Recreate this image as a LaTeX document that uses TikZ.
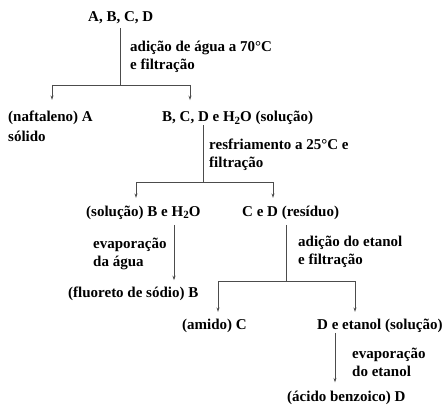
\documentclass[tikz,border=0pt]{standalone}
\usepackage{fontspec}
\setmainfont{Liberation Serif}
\usetikzlibrary{arrows.meta}
\newcommand{\hdois}{H\raisebox{-0.35ex}{\fontsize{11}{11}\selectfont 2}O}
\tikzset{
	txt/.style={inner sep=0pt, anchor=base west, font=\fontsize{15}{18}\selectfont\bfseries},
	lbl/.style={txt, align=left},
	line/.style={draw=black!70, line width=0.8pt},
	arr/.style={line, shorten >=8pt, -{Stealth[length=4.5pt,width=3pt]}}
}

\begin{document}
\begin{tikzpicture}[x=1pt,y=-1pt]
	\useasboundingbox (0,0) rectangle (446,409);

	% mistura e primeira separacao
	\node[txt] (abcd) at (88,21.5) {A, B, C, D};
	\node[lbl] (op1) at (130,70) {adição de água a 70°C\\e filtração};
	\node[txt] (naf) at (8,121.7) {(naftaleno) A};
	\node[txt] (sol) at (8,141) {sólido};
	\node[txt] (bcd) at (162,121.7) {B, C, D e \hdois{} (solução)};

	\coordinate (j1) at (120,85);
	\coordinate (l1) at (52,85);
	\coordinate (r1) at (190,85);
	\draw[line, shorten <=4pt] (abcd.south -| j1) -- (j1);
	\draw[line] (l1) -- (r1);
	\draw[arr, shorten >=11pt] (l1) -- (l1 |- naf.north);
	\draw[arr, shorten >=11pt] (r1) -- (r1 |- bcd.north);

	% resfriamento
	\node[lbl] (op2) at (209,167.5) {resfriamento a 25°C e\\filtração};
	\node[txt] (bh) at (86,216.5) {(solução) B e \hdois};
	\node[txt] (cd) at (242,216.5) {C e D (resíduo)};

	\coordinate (j2) at (203,182);
	\coordinate (l2) at (136,182);
	\coordinate (r2) at (273,182);
	\draw[line] (bcd.south -| j2) -- (j2);
	\draw[line] (l2) -- (r2);
	\draw[arr] (l2) -- (l2 |- bh.north);
	\draw[arr] (r2) -- (r2 |- cd.north);

	% ramo da agua
	\node[lbl] (op3) at (93,266) {evaporação\\da água};
	\node[txt] (flu) at (68,297) {(fluoreto de sódio) B};
	\coordinate (j3) at (174,0);
	\draw[arr, shorten <=5pt, shorten >=6pt] (bh.south -| j3) -- (flu.north -| j3);

	% ramo do residuo
	\node[lbl] (op4) at (298,264.5) {adição do etanol\\e filtração};
	\node[txt] (ami) at (182,329.5) {(amido) C};
	\node[txt] (det) at (317,329.5) {D e etanol (solução)};

	\coordinate (j4) at (286,281);
	\coordinate (l4) at (218,281);
	\coordinate (r4) at (355,281);
	\draw[line, shorten <=5pt] (cd.south -| j4) -- (j4);
	\draw[line] (l4) -- (r4);
	\draw[arr, shorten >=7pt] (l4) -- (l4 |- ami.north);
	\draw[arr, shorten >=7pt] (r4) -- (r4 |- det.north);

	% evaporacao do etanol
	\node[lbl] (op5) at (352,376) {evaporação\\do etanol};
	\node[txt] (ben) at (287,401) {(ácido benzoico) D};
	\coordinate (j5) at (335,0);
	\draw[arr] (det.south -| j5) -- (ben.north -| j5);
\end{tikzpicture}
\end{document}
